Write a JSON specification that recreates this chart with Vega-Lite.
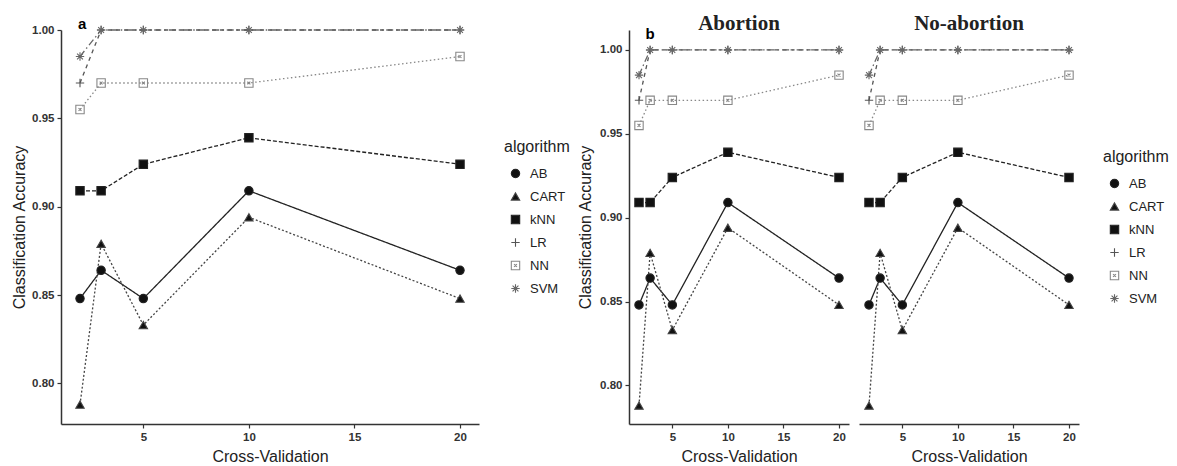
{
  "$schema": "https://vega.github.io/schema/vega-lite/v6.json",
  "background": "white",
  "padding": {"left": 11, "top": 13, "right": 0, "bottom": 0},
  "config": {
    "font": "Liberation Sans",
    "view": {"stroke": null},
    "axis": {"grid": false, "domainColor": "#333", "domainWidth": 1.5, "tickColor": "#333", "tickWidth": 1.2, "tickSize": 4,
      "labelFont": "Liberation Sans", "labelFontSize": 11.5, "labelFontWeight": "bold", "labelColor": "#333", "labelPadding": 3,
      "titleFont": "Liberation Sans", "titleFontSize": 16, "titleFontWeight": "normal", "titleColor": "#222"},
    "legend": {"titleFont": "Liberation Sans", "titleFontSize": 16, "titleFontWeight": "normal", "titleColor": "#222",
      "labelFont": "Liberation Sans", "labelFontSize": 13, "labelColor": "#222", "symbolSize": 70, "symbolStrokeWidth": 1.1,
      "symbolOffset": 5, "labelOffset": 8, "titlePadding": 12, "rowPadding": 9, "padding": 0},
    "header": {"labelFont": "Liberation Serif", "labelFontSize": 21, "labelFontWeight": "bold", "labelColor": "#222", "labelPadding": -7},
    "concat": {"spacing": 7}
  },
  "datasets": {
    "a": [
      {"k": 2, "algorithm": "AB", "acc": 0.848}, {"k": 3, "algorithm": "AB", "acc": 0.864}, {"k": 5, "algorithm": "AB", "acc": 0.848}, {"k": 10, "algorithm": "AB", "acc": 0.909}, {"k": 20, "algorithm": "AB", "acc": 0.864},
      {"k": 2, "algorithm": "CART", "acc": 0.788}, {"k": 3, "algorithm": "CART", "acc": 0.879}, {"k": 5, "algorithm": "CART", "acc": 0.833}, {"k": 10, "algorithm": "CART", "acc": 0.894}, {"k": 20, "algorithm": "CART", "acc": 0.848},
      {"k": 2, "algorithm": "kNN", "acc": 0.909}, {"k": 3, "algorithm": "kNN", "acc": 0.909}, {"k": 5, "algorithm": "kNN", "acc": 0.924}, {"k": 10, "algorithm": "kNN", "acc": 0.939}, {"k": 20, "algorithm": "kNN", "acc": 0.924},
      {"k": 2, "algorithm": "LR", "acc": 0.970}, {"k": 3, "algorithm": "LR", "acc": 1.0}, {"k": 5, "algorithm": "LR", "acc": 1.0}, {"k": 10, "algorithm": "LR", "acc": 1.0}, {"k": 20, "algorithm": "LR", "acc": 1.0},
      {"k": 2, "algorithm": "NN", "acc": 0.955}, {"k": 3, "algorithm": "NN", "acc": 0.970}, {"k": 5, "algorithm": "NN", "acc": 0.970}, {"k": 10, "algorithm": "NN", "acc": 0.970}, {"k": 20, "algorithm": "NN", "acc": 0.985},
      {"k": 2, "algorithm": "SVM", "acc": 0.985}, {"k": 3, "algorithm": "SVM", "acc": 1.0}, {"k": 5, "algorithm": "SVM", "acc": 1.0}, {"k": 10, "algorithm": "SVM", "acc": 1.0}, {"k": 20, "algorithm": "SVM", "acc": 1.0}
    ],
    "b": [
      {"panel": "Abortion", "k": 2, "algorithm": "AB", "acc": 0.848}, {"panel": "Abortion", "k": 3, "algorithm": "AB", "acc": 0.864}, {"panel": "Abortion", "k": 5, "algorithm": "AB", "acc": 0.848}, {"panel": "Abortion", "k": 10, "algorithm": "AB", "acc": 0.909}, {"panel": "Abortion", "k": 20, "algorithm": "AB", "acc": 0.864},
      {"panel": "Abortion", "k": 2, "algorithm": "CART", "acc": 0.788}, {"panel": "Abortion", "k": 3, "algorithm": "CART", "acc": 0.879}, {"panel": "Abortion", "k": 5, "algorithm": "CART", "acc": 0.833}, {"panel": "Abortion", "k": 10, "algorithm": "CART", "acc": 0.894}, {"panel": "Abortion", "k": 20, "algorithm": "CART", "acc": 0.848},
      {"panel": "Abortion", "k": 2, "algorithm": "kNN", "acc": 0.909}, {"panel": "Abortion", "k": 3, "algorithm": "kNN", "acc": 0.909}, {"panel": "Abortion", "k": 5, "algorithm": "kNN", "acc": 0.924}, {"panel": "Abortion", "k": 10, "algorithm": "kNN", "acc": 0.939}, {"panel": "Abortion", "k": 20, "algorithm": "kNN", "acc": 0.924},
      {"panel": "Abortion", "k": 2, "algorithm": "LR", "acc": 0.970}, {"panel": "Abortion", "k": 3, "algorithm": "LR", "acc": 1.0}, {"panel": "Abortion", "k": 5, "algorithm": "LR", "acc": 1.0}, {"panel": "Abortion", "k": 10, "algorithm": "LR", "acc": 1.0}, {"panel": "Abortion", "k": 20, "algorithm": "LR", "acc": 1.0},
      {"panel": "Abortion", "k": 2, "algorithm": "NN", "acc": 0.955}, {"panel": "Abortion", "k": 3, "algorithm": "NN", "acc": 0.970}, {"panel": "Abortion", "k": 5, "algorithm": "NN", "acc": 0.970}, {"panel": "Abortion", "k": 10, "algorithm": "NN", "acc": 0.970}, {"panel": "Abortion", "k": 20, "algorithm": "NN", "acc": 0.985},
      {"panel": "Abortion", "k": 2, "algorithm": "SVM", "acc": 0.985}, {"panel": "Abortion", "k": 3, "algorithm": "SVM", "acc": 1.0}, {"panel": "Abortion", "k": 5, "algorithm": "SVM", "acc": 1.0}, {"panel": "Abortion", "k": 10, "algorithm": "SVM", "acc": 1.0}, {"panel": "Abortion", "k": 20, "algorithm": "SVM", "acc": 1.0},
      {"panel": "No-abortion", "k": 2, "algorithm": "AB", "acc": 0.848}, {"panel": "No-abortion", "k": 3, "algorithm": "AB", "acc": 0.864}, {"panel": "No-abortion", "k": 5, "algorithm": "AB", "acc": 0.848}, {"panel": "No-abortion", "k": 10, "algorithm": "AB", "acc": 0.909}, {"panel": "No-abortion", "k": 20, "algorithm": "AB", "acc": 0.864},
      {"panel": "No-abortion", "k": 2, "algorithm": "CART", "acc": 0.788}, {"panel": "No-abortion", "k": 3, "algorithm": "CART", "acc": 0.879}, {"panel": "No-abortion", "k": 5, "algorithm": "CART", "acc": 0.833}, {"panel": "No-abortion", "k": 10, "algorithm": "CART", "acc": 0.894}, {"panel": "No-abortion", "k": 20, "algorithm": "CART", "acc": 0.848},
      {"panel": "No-abortion", "k": 2, "algorithm": "kNN", "acc": 0.909}, {"panel": "No-abortion", "k": 3, "algorithm": "kNN", "acc": 0.909}, {"panel": "No-abortion", "k": 5, "algorithm": "kNN", "acc": 0.924}, {"panel": "No-abortion", "k": 10, "algorithm": "kNN", "acc": 0.939}, {"panel": "No-abortion", "k": 20, "algorithm": "kNN", "acc": 0.924},
      {"panel": "No-abortion", "k": 2, "algorithm": "LR", "acc": 0.970}, {"panel": "No-abortion", "k": 3, "algorithm": "LR", "acc": 1.0}, {"panel": "No-abortion", "k": 5, "algorithm": "LR", "acc": 1.0}, {"panel": "No-abortion", "k": 10, "algorithm": "LR", "acc": 1.0}, {"panel": "No-abortion", "k": 20, "algorithm": "LR", "acc": 1.0},
      {"panel": "No-abortion", "k": 2, "algorithm": "NN", "acc": 0.955}, {"panel": "No-abortion", "k": 3, "algorithm": "NN", "acc": 0.970}, {"panel": "No-abortion", "k": 5, "algorithm": "NN", "acc": 0.970}, {"panel": "No-abortion", "k": 10, "algorithm": "NN", "acc": 0.970}, {"panel": "No-abortion", "k": 20, "algorithm": "NN", "acc": 0.985},
      {"panel": "No-abortion", "k": 2, "algorithm": "SVM", "acc": 0.985}, {"panel": "No-abortion", "k": 3, "algorithm": "SVM", "acc": 1.0}, {"panel": "No-abortion", "k": 5, "algorithm": "SVM", "acc": 1.0}, {"panel": "No-abortion", "k": 10, "algorithm": "SVM", "acc": 1.0}, {"panel": "No-abortion", "k": 20, "algorithm": "SVM", "acc": 1.0}
    ]
  },
  "hconcat": [
    {
      "data": {"name": "a"},
      "width": 418,
      "height": 394,
      "layer": [
        {
          "mark": {"type": "line", "strokeWidth": 1.3},
          "encoding": {
            "x": {"field": "k", "type": "quantitative", "title": "Cross-Validation", "scale": {"domain": [1.1, 20.9], "nice": false, "zero": false}, "axis": {"values": [5, 10, 15, 20], "titlePadding": 6}},
            "y": {"field": "acc", "type": "quantitative", "title": "Classification Accuracy", "scale": {"domain": [0.777, 1.0], "nice": false, "zero": false}, "axis": {"values": [0.8, 0.85, 0.9, 0.95, 1.0], "format": ".2f", "titlePadding": 4}},
            "color": {"field": "algorithm", "type": "nominal", "legend": null, "scale": {"domain": ["SVM", "NN", "LR", "kNN", "CART", "AB"], "range": ["#666", "#888", "#555", "#222", "#444", "#222"]}},
            "strokeDash": {"field": "algorithm", "type": "nominal", "legend": null, "scale": {"domain": ["SVM", "NN", "LR", "kNN", "CART", "AB"], "range": [[7, 3, 1.5, 3], [1.5, 2.5], [4, 4], [4, 2], [2, 2], [1, 0]]}}
          }
        },
        {
          "mark": {"type": "point", "opacity": 1, "size": 70, "strokeWidth": 1.1},
          "encoding": {
            "x": {"field": "k", "type": "quantitative"},
            "y": {"field": "acc", "type": "quantitative"},
            "shape": {"field": "algorithm", "type": "nominal", "title": "algorithm", "scale": {"domain": ["AB", "CART", "kNN", "LR", "NN", "SVM"], "range": ["circle", "triangle-up", "square", "M-1,0H1M0,-1V1", "M-1,-1H1V1H-1ZM-0.35,-0.35L0.35,0.35M0.35,-0.35L-0.35,0.35", "M-1,0H1M0,-1V1M-0.7,-0.7L0.7,0.7M0.7,-0.7L-0.7,0.7"]}, "legend": {"orient": "none", "legendX": 443, "legendY": 109}},
            "fill": {"field": "algorithm", "type": "nominal", "title": "algorithm", "scale": {"domain": ["AB", "CART", "kNN", "LR", "NN", "SVM"], "range": ["#111", "#111", "#111", "transparent", "transparent", "transparent"]}, "legend": {"orient": "none", "legendX": 443, "legendY": 109}},
            "stroke": {"field": "algorithm", "type": "nominal", "title": "algorithm", "scale": {"domain": ["AB", "CART", "kNN", "LR", "NN", "SVM"], "range": ["#222", "#444", "#222", "#555", "#888", "#666"]}, "legend": {"orient": "none", "legendX": 443, "legendY": 109}}
          }
        },
        {
          "transform": [{"filter": "datum.k == 2 && datum.algorithm == 'AB'"}],
          "mark": {"type": "text", "text": "a", "fontSize": 15, "fontWeight": "bold", "color": "#000", "align": "center", "baseline": "middle"},
          "encoding": {"x": {"datum": 2.1}, "y": {"datum": 1.0035}}
        }
      ]
    },
    {
      "data": {"name": "b"},
      "facet": {"column": {"field": "panel", "type": "nominal", "title": null, "sort": ["Abortion", "No-abortion"]}},
      "spacing": 10,
      "spec": {
        "width": 220,
        "height": 394,
        "layer": [
          {
            "mark": {"type": "line", "strokeWidth": 1.3},
            "encoding": {
              "x": {"field": "k", "type": "quantitative", "title": "Cross-Validation", "scale": {"domain": [1.1, 20.9], "nice": false, "zero": false}, "axis": {"values": [5, 10, 15, 20], "titlePadding": 6}},
              "y": {"field": "acc", "type": "quantitative", "title": "Classification Accuracy", "scale": {"domain": [0.777, 1.0119], "nice": false, "zero": false}, "axis": {"values": [0.8, 0.85, 0.9, 0.95, 1.0], "format": ".2f", "titlePadding": 6}},
              "color": {"field": "algorithm", "type": "nominal", "legend": null, "scale": {"domain": ["SVM", "NN", "LR", "kNN", "CART", "AB"], "range": ["#666", "#888", "#555", "#222", "#444", "#222"]}},
              "strokeDash": {"field": "algorithm", "type": "nominal", "legend": null, "scale": {"domain": ["SVM", "NN", "LR", "kNN", "CART", "AB"], "range": [[7, 3, 1.5, 3], [1.5, 2.5], [4, 4], [4, 2], [2, 2], [1, 0]]}}
            }
          },
          {
            "mark": {"type": "point", "opacity": 1, "size": 70, "strokeWidth": 1.1},
            "encoding": {
              "x": {"field": "k", "type": "quantitative"},
              "y": {"field": "acc", "type": "quantitative"},
              "shape": {"field": "algorithm", "type": "nominal", "title": "algorithm", "scale": {"domain": ["AB", "CART", "kNN", "LR", "NN", "SVM"], "range": ["circle", "triangle-up", "square", "M-1,0H1M0,-1V1", "M-1,-1H1V1H-1ZM-0.35,-0.35L0.35,0.35M0.35,-0.35L-0.35,0.35", "M-1,0H1M0,-1V1M-0.7,-0.7L0.7,0.7M0.7,-0.7L-0.7,0.7"]}, "legend": {"orient": "none", "legendX": 474, "legendY": 119}},
              "fill": {"field": "algorithm", "type": "nominal", "title": "algorithm", "scale": {"domain": ["AB", "CART", "kNN", "LR", "NN", "SVM"], "range": ["#111", "#111", "#111", "transparent", "transparent", "transparent"]}, "legend": {"orient": "none", "legendX": 474, "legendY": 119}},
              "stroke": {"field": "algorithm", "type": "nominal", "title": "algorithm", "scale": {"domain": ["AB", "CART", "kNN", "LR", "NN", "SVM"], "range": ["#222", "#444", "#222", "#555", "#888", "#666"]}, "legend": {"orient": "none", "legendX": 474, "legendY": 119}}
            }
          },
          {
            "transform": [{"filter": "datum.panel == 'Abortion' && datum.k == 2 && datum.algorithm == 'AB'"}],
            "mark": {"type": "text", "text": "b", "fontSize": 15, "fontWeight": "bold", "color": "#000", "align": "center", "baseline": "middle"},
            "encoding": {"x": {"datum": 2.99}, "y": {"datum": 1.0095}}
          }
        ]
      }
    }
  ],
  "resolve": {"scale": {"color": "independent", "stroke": "independent", "fill": "independent", "shape": "independent", "strokeDash": "independent"}}
}
